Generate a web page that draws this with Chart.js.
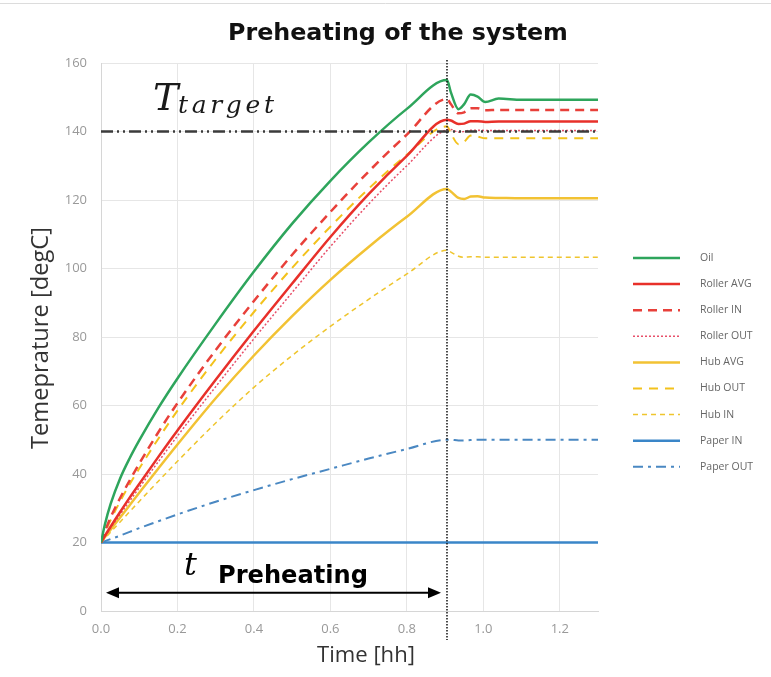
<!DOCTYPE html>
<html>
<head>
<meta charset="utf-8">
<script src="https://cdn.jsdelivr.net/npm/chart.js@4/dist/chart.umd.min.js"></script>
<style>
  html, body { margin: 0; padding: 0; background: #fff; }
  #wrap { position: relative; width: 771px; height: 677px; }
</style>
</head>
<body>
<div id="wrap"><canvas id="chart" width="771" height="677"></canvas></div>
<script>
/* ============================================================
   DATA
============================================================ */
const times     = [0, 0.01, 0.025, 0.05, 0.075, 0.1, 0.15, 0.2, 0.3, 0.4, 0.5, 0.6, 0.7, 0.8, 0.905, 0.915, 0.935, 0.95, 0.967, 0.985, 1.005, 1.04, 1.1, 1.2, 1.3];
const oil       = [20, 25.2, 31.2, 38.7, 44.6, 49.8, 59.3, 67.9, 83.9, 99.1, 113.1, 125.6, 136.8, 146.6, 155, 151.5, 146.5, 148, 150.8, 150.2, 148.6, 149.6, 149.3, 149.3, 149.3];
const rollerAvg = [20, 21.9, 24.6, 28.9, 33.1, 37.1, 45, 52.7, 67.5, 81.8, 95.6, 109.2, 121.7, 132.9, 143.4, 143.2, 142.2, 142.3, 143, 143, 142.8, 142.9, 142.9, 142.9, 142.9];
const rollerIn  = [20, 23.2, 27.3, 33, 38.1, 43, 52.2, 60.7, 76.2, 90.5, 104, 116.5, 128.3, 139.1, 149.5, 148, 145.3, 145.6, 146.8, 146.8, 146.2, 146.3, 146.3, 146.3, 146.3];
const rollerOut = [20, 21.7, 24.2, 28.2, 32.1, 36, 43.6, 51.1, 65.5, 79.5, 93, 106.4, 118.8, 130, 140.5, 140.6, 139.8, 140, 140.4, 140.4, 140.3, 140.3, 140.3, 140.3, 140.3];
const hubAvg    = [20, 21.5, 23.7, 27.3, 30.9, 34.5, 41.6, 48.6, 62.1, 74.6, 86.1, 96.7, 106.3, 115.1, 123.2, 122.5, 120.6, 120.3, 121, 121.1, 120.7, 120.6, 120.5, 120.5, 120.5];
const hubOut    = [20, 22.8, 26.5, 32, 37, 41.6, 50.3, 58.5, 73.5, 87.3, 100.2, 112.2, 123.3, 133.2, 141.5, 139.5, 136.3, 137, 138.8, 138.5, 138, 138, 138, 138, 138];
const hubIn     = [20, 21.2, 23, 26, 29, 32, 37.9, 43.7, 54.9, 65.3, 74.6, 83.1, 91, 98.4, 105.3, 104.8, 103.6, 103.3, 103.4, 103.4, 103.3, 103.3, 103.3, 103.3, 103.3];
const paperIn   = [20, 20, 20, 20, 20, 20, 20, 20, 20, 20, 20, 20, 20, 20, 20, 20, 20, 20, 20, 20, 20, 20, 20, 20, 20];
const paperOut  = [20, 20.4, 21, 22, 23.1, 24.2, 26.2, 28.2, 31.9, 35.3, 38.5, 41.5, 44.5, 47.3, 50, 50, 49.8, 49.8, 49.9, 50, 50, 50, 50, 50, 50];

const targetTemp = 140;     // T_target
const preheatEnd = 0.905;   // t_Preheating [hh]
const xRange = [0, 1.3];
const yRange = [0, 160];
const xStep = 0.2, yStep = 20;

/* ============================================================
   SERIES STYLE
============================================================ */
const series = [
  { label: 'Oil',        data: oil,       color: '#2ea55c', width: 2.5, dash: [] },
  { label: 'Roller AVG', data: rollerAvg, color: '#e8302a', width: 2.5, dash: [] },
  { label: 'Roller IN',  data: rollerIn,  color: '#e8403a', width: 2.5, dash: [9, 6] },
  { label: 'Roller OUT', data: rollerOut, color: '#e8506a', width: 1.5, dash: [2, 2] },
  { label: 'Hub AVG',    data: hubAvg,    color: '#f2c233', width: 2.5, dash: [] },
  { label: 'Hub OUT',    data: hubOut,    color: '#f3c21c', width: 2,   dash: [9, 7] },
  { label: 'Hub IN',     data: hubIn,     color: '#efc52e', width: 1.5, dash: [5, 4] },
  { label: 'Paper IN',   data: paperIn,   color: '#3a86c8', width: 2.5, dash: [] },
  { label: 'Paper OUT',  data: paperOut,  color: '#4a88c2', width: 2,   dash: [10, 5, 3, 5] },
];

const pts = arr => times.map((t, i) => ({ x: t, y: arr[i] }));

const datasets = [
  // target line — index 0 so it is drawn on top
  {
    label: 'T target',
    data: [{ x: xRange[0], y: targetTemp }, { x: xRange[1], y: targetTemp }],
    borderColor: '#3b3b3b', borderWidth: 2.5, borderDash: [12, 4, 2, 4, 2, 4],
    pointRadius: 0, tension: 0
  },
  ...series.map(s => ({
    label: s.label,
    data: pts(s.data),
    borderColor: s.color,
    borderWidth: s.width,
    borderDash: s.dash,
    pointRadius: 0,
    cubicInterpolationMode: 'monotone'
  }))
];

/* ============================================================
   HELPERS
============================================================ */
const fitFont = (ctx, text, style, width) => {
  ctx.font = style.replace('{s}', 20);
  const size = 20 * width / ctx.measureText(text).width;
  ctx.font = style.replace('{s}', size.toFixed(2));
};
const drawSpaced = (ctx, text, x, y, width) => {
  const chars = [...text];
  const w = chars.map(c => ctx.measureText(c).width);
  const gap = (width - w.reduce((a, b) => a + b, 0)) / (chars.length - 1);
  let cx = x;
  chars.forEach((c, i) => { ctx.fillText(c, cx, y); cx += w[i] + gap; });
};

/* ============================================================
   ANNOTATIONS — title, axis titles, legend, markers
============================================================ */
const annotations = {
  id: 'annotations',
  afterDraw(chart) {
    const { ctx, chartArea: ca, scales: { x, y } } = chart;
    ctx.save();

    // faint frame line at the very top
    ctx.strokeStyle = '#dcdcdc'; ctx.lineWidth = 1;
    ctx.beginPath(); ctx.moveTo(0, 3.5); ctx.lineTo(771, 3.5); ctx.stroke();

    // title
    ctx.fillStyle = '#111';
    ctx.textAlign = 'left'; ctx.textBaseline = 'alphabetic';
    fitFont(ctx, 'Preheating of the system', 'bold {s}px "DejaVu Sans"', 340);
    ctx.fillText('Preheating of the system', 228, 40);

    // axis titles
    ctx.fillStyle = '#333';
    fitFont(ctx, 'Time [hh]', '{s}px "Open Sans"', 98);
    ctx.fillText('Time [hh]', 317, 662);
    ctx.save();
    ctx.translate(48, 338); ctx.rotate(-Math.PI / 2);
    ctx.textAlign = 'center';
    fitFont(ctx, 'Temeprature [degC]', '{s}px "Open Sans"', 222);
    ctx.fillText('Temeprature [degC]', 0, 0);
    ctx.restore();

    // vertical dotted line at end of preheating
    const xe = x.getPixelForValue(preheatEnd);
    ctx.strokeStyle = '#111'; ctx.lineWidth = 1.5; ctx.setLineDash([1.5, 1.5]);
    ctx.beginPath(); ctx.moveTo(xe, ca.top - 3); ctx.lineTo(xe, ca.bottom + 29); ctx.stroke();
    ctx.setLineDash([]);

    // T_target label
    ctx.fillStyle = '#1a1a1a';
    ctx.font = 'italic 38px "DejaVu Serif"';
    ctx.fillText('T', 153, 110);
    ctx.font = 'italic 25px "DejaVu Serif"';
    drawSpaced(ctx, 'target', 178, 113, 96);

    // t_Preheating double arrow
    const ay = y.getPixelForValue(5.3);
    const a0 = x.getPixelForValue(0) + 5, a1 = xe - 6;
    ctx.strokeStyle = '#000'; ctx.fillStyle = '#000'; ctx.lineWidth = 2;
    ctx.beginPath(); ctx.moveTo(a0 + 10, ay); ctx.lineTo(a1 - 10, ay); ctx.stroke();
    ctx.beginPath(); ctx.moveTo(a0, ay); ctx.lineTo(a0 + 13, ay - 5.5); ctx.lineTo(a0 + 13, ay + 5.5); ctx.closePath(); ctx.fill();
    ctx.beginPath(); ctx.moveTo(a1, ay); ctx.lineTo(a1 - 13, ay - 5.5); ctx.lineTo(a1 - 13, ay + 5.5); ctx.closePath(); ctx.fill();
    ctx.font = 'italic 32px "DejaVu Serif"';
    ctx.fillText('t', 184, 575);
    fitFont(ctx, 'Preheating', 'bold {s}px "DejaVu Sans"', 150);
    ctx.fillText('Preheating', 218, 583);

    // legend
    ctx.textBaseline = 'middle';
    ctx.font = '10.5px "Open Sans"';
    series.forEach((s, i) => {
      const ly = 258 + i * 26.1;
      ctx.strokeStyle = s.color; ctx.lineWidth = s.width; ctx.setLineDash(s.dash);
      ctx.beginPath(); ctx.moveTo(ca.right + 35, ly); ctx.lineTo(ca.right + 82, ly); ctx.stroke();
      ctx.setLineDash([]);
      ctx.fillStyle = '#666';
      ctx.fillText(s.label, ca.right + 102, ly);
    });
    ctx.restore();
  }
};

/* ============================================================
   CHART
============================================================ */
const tickFont = { family: "'Open Sans', sans-serif", size: 13 };
new Chart(document.getElementById('chart'), {
  type: 'line',
  data: { datasets },
  options: {
    responsive: false,
    animation: false,
    layout: { padding: { top: 63, right: 173, bottom: 0, left: 0 } },
    plugins: { legend: { display: false }, title: { display: false }, tooltip: { enabled: false } },
    elements: { point: { radius: 0 } },
    scales: {
      x: {
        type: 'linear', min: xRange[0], max: xRange[1],
        afterFit: s => { s.height = 66; },
        ticks: { stepSize: xStep, includeBounds: false, padding: 10, color: '#999', font: tickFont,
                 callback: v => v.toFixed(1) },
        grid: { color: '#e6e6e6', drawTicks: false },
        border: { color: '#d6d6d6' }
      },
      y: {
        min: yRange[0], max: yRange[1],
        afterFit: s => { s.width = 101; },
        ticks: { stepSize: yStep, padding: 14, color: '#999', font: tickFont },
        grid: { color: '#e6e6e6', drawTicks: false },
        border: { color: '#d6d6d6' }
      }
    }
  },
  plugins: [annotations]
});
</script>
</body>
</html>
